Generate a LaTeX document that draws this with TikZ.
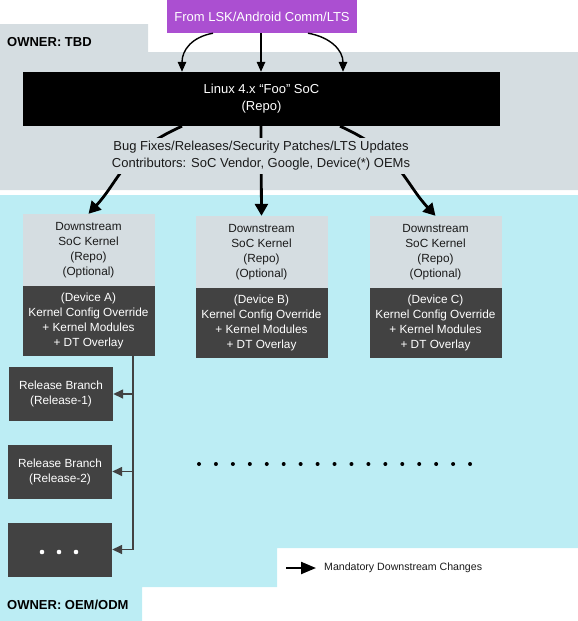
\documentclass[tikz,border=0pt]{standalone}
\usepackage{fontspec}
\setmainfont{Liberation Sans}
\usetikzlibrary{arrows.meta}
\definecolor{tbdgray}{HTML}{D5DDE1}
\definecolor{oemcyan}{HTML}{BCEDF4}
\definecolor{purp}{HTML}{AB4FD1}
\definecolor{darkbox}{HTML}{424242}
\definecolor{txt}{HTML}{1A1A1A}
\begin{document}
\begin{tikzpicture}[x=1pt,y=-1pt,
  boxtext/.style={font=\fontsize{11.8}{15}\selectfont, align=center, inner sep=0pt},
  lightbox/.style={boxtext, fill=tbdgray, text=txt, minimum width=132pt, minimum height=72pt},
  darkbx/.style={boxtext, fill=darkbox, text=white, minimum width=132pt, minimum height=70pt},
  relbox/.style={boxtext, fill=darkbox, text=white, minimum width=104pt, minimum height=54pt},
  thinarrow/.style={line width=1.4pt, -{Triangle[length=10pt,width=8.5pt]}},
  thickarrow/.style={line width=2.8pt, -{Triangle[length=12pt,width=13pt]}},
  relarrow/.style={line width=1.5pt, darkbox, -{Triangle[length=10pt,width=9pt]}},
  owner/.style={font=\fontsize{13}{15}\selectfont\bfseries, text=black, inner sep=0pt, anchor=west}
]
\useasboundingbox (0,0) rectangle (578,621);
% regions
\fill[tbdgray] (0,24) -- (148,24) -- (148,52) -- (578,52) -- (578,190) -- (0,190) -- cycle;
\fill[oemcyan] (0,195) -- (578,195) -- (578,548) -- (277,548) -- (277,587) -- (142,587) -- (142,621) -- (0,621) -- cycle;
\node[owner] (otbd) at (7,42) {OWNER: TBD};
\node[owner] (ooem) at (7,605) {OWNER: OEM/ODM};

% top
\node[fill=purp, text=white, minimum width=190pt, minimum height=33pt, inner sep=0pt,
  font=\fontsize{13}{17}\selectfont] (src) at (262,16.5) {From LSK/Android Comm/LTS};
\node[fill=black, text=white, minimum width=477pt, minimum height=54pt, inner sep=0pt, align=center,
  font=\fontsize{13}{17}\selectfont] (soc) at (261.5,99) {Linux 4.x “Foo” SoC\\(Repo)};

\draw[thinarrow] ([xshift=-49pt]src.south) .. controls (192,37) and (182,50) .. ([xshift=-79.5pt]soc.north);
\draw[thinarrow] ([xshift=-1pt]src.south) -- ([xshift=-0.5pt]soc.north);
\draw[thinarrow] ([xshift=46pt]src.south) .. controls (330,37) and (343,50) .. ([xshift=81.5pt]soc.north);

% downstream boxes
\node[lightbox] (al) at (88.5,250) {Downstream\\SoC Kernel\\(Repo)\\(Optional)};
\node[darkbx]   (ad) at (88.5,321) {(Device A)\\Kernel Config Override\\+ Kernel Modules\\+ DT Overlay};
\node[lightbox] (bl) at (261.5,252) {Downstream\\SoC Kernel\\(Repo)\\(Optional)};
\node[darkbx]   (bd) at (261.5,323) {(Device B)\\Kernel Config Override\\+ Kernel Modules\\+ DT Overlay};
\node[lightbox] (cl) at (435.5,252) {Downstream\\SoC Kernel\\(Repo)\\(Optional)};
\node[darkbx]   (cd) at (435.5,323) {(Device C)\\Kernel Config Override\\+ Kernel Modules\\+ DT Overlay};

\draw[thickarrow] ([xshift=-79.5pt]soc.south) .. controls (122,153) and (120,180) .. (al.north);
\draw[thickarrow] ([xshift=-0.5pt]soc.south) -- (bl.north);
\draw[thickarrow] ([xshift=78.5pt]soc.south) .. controls (400,153) and (404,182) .. (cl.north);

\node[fill=tbdgray, text=txt, align=center, inner sep=3pt, font=\fontsize{13}{17}\selectfont] (lbl) at (261,156)
  {Bug Fixes/Releases/Security Patches/LTS Updates\\Contributors: SoC Vendor, Google, Device(*) OEMs};

% release branches
\node[relbox] (r1) at (61,394) {Release Branch\\(Release-1)};
\node[relbox] (r2) at (60,471.5) {Release Branch\\(Release-2)};
\node[relbox] (r3) at (60,549.5) {};
\foreach \dx in {-18,-1,16} \fill[white] ([xshift=\dx pt, yshift=-2.5pt]r3.center) circle (2.3pt);

\coordinate (trunk) at ([xshift=44.5pt]ad.south);
\draw[line width=1.5pt, darkbox] (trunk) -- (trunk |- r3.east);
\draw[relarrow] (trunk |- r1.east) -- (r1.east);
\draw[relarrow] (trunk |- r2.east) -- (r2.east);
\draw[relarrow] (trunk |- r3.east) -- (r3.east);

% dotted row
\foreach \i in {0,...,16} \fill[black] (199+16.94*\i,464) circle (2pt);

% legend
\coordinate (lga) at (286,568);
\node[inner sep=0pt, anchor=west, text=txt, font=\fontsize{10.6}{12}\selectfont] (lgt) at (324,568) {Mandatory Downstream Changes};
\draw[line width=2.2pt, -{Triangle[length=15pt,width=12pt]}] (lga) -- ([xshift=-8pt]lgt.west);
\end{tikzpicture}
\end{document}
